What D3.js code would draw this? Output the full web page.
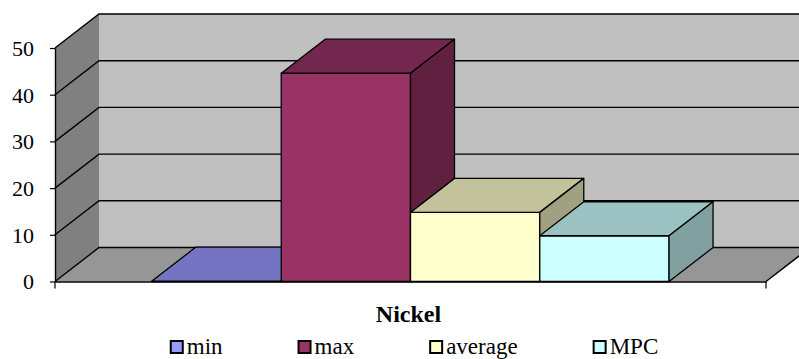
<!DOCTYPE html>
<html>
<head>
<meta charset="utf-8">
<script src="https://cdn.jsdelivr.net/npm/d3@7"></script>
</head>
<body style="margin:0;padding:0;background:#fff">
<svg id="chart" width="799" height="359" style="display:block"></svg>
<script>
// Chart data
const categories = ["Nickel"];
const seriesNames = ["min", "max", "average", "MPC"];
const seriesValues = [0.1, 44.6, 14.8, 9.8];
const seriesColors = ["#9999FF", "#993366", "#FFFFCC", "#CCFFFF"];
const yTicks = [0, 10, 20, 30, 40, 50];

const FONT = '"Liberation Serif", Tinos, "Times New Roman", serif';
const plot = { left: 55, right: 766, top: 48, bottom: 281.5 };
const depth = { dx: 44, dy: -34 };   // offset of the back plane

const svg = d3.select("#chart");

const y = d3.scaleLinear().domain([0, 50]).range([plot.bottom, plot.top]);
const x0 = d3.scaleBand().domain(categories).range([plot.left, plot.right]);
const x1 = d3.scaleBand().domain(seriesNames)
  .range([0, x0.bandwidth()]).paddingInner(0).paddingOuter(0.75);

const shade = (c, k) => { const r = d3.rgb(c); return d3.rgb(r.r * k, r.g * k, r.b * k).formatHex(); };
const poly = pts => "M" + pts.map(p => p.join(",")).join("L") + "Z";
const back = ([px, py]) => [px + depth.dx, py + depth.dy];

// --- walls and floor ---
const yMax = y.domain()[1];
const fl = [[plot.left, y(0)], [plot.right, y(0)], back([plot.right, y(0)]), back([plot.left, y(0)])];
const sideWall = [[plot.left, y(0)], [plot.left, y(yMax)], back([plot.left, y(yMax)]), back([plot.left, y(0)])];
const backWall = [back([plot.left, y(0)]), back([plot.left, y(yMax)]), back([plot.right, y(yMax)]), back([plot.right, y(0)])];

svg.append("path").attr("d", poly(backWall)).attr("fill", "#C0C0C0");
svg.append("path").attr("d", poly(sideWall)).attr("fill", "#808080");
svg.append("path").attr("d", poly(fl)).attr("fill", "#969696");

// gridlines across side wall and back wall
const grid = svg.append("g").attr("stroke", "#000").attr("stroke-width", 1.4).attr("fill", "none");
yTicks.forEach(v => {
  const f = [plot.left, y(v)], b = back(f), br = back([plot.right, y(v)]);
  grid.append("path").attr("d", `M${f}L${b}L${br}`);
});
// floor right edge
grid.append("path").attr("d", `M${[plot.right, y(0)]}L${back([plot.right, y(0)])}`);

// --- bars ---
const bars = svg.append("g").attr("stroke", "#000").attr("stroke-width", 1.3).attr("stroke-linejoin", "round");
seriesNames.forEach((name, i) => {
  const xl = x0(categories[0]) + x1(name);
  const xr = xl + x1.bandwidth();
  const yt = y(seriesValues[i]), yb = y(0);
  const c = seriesColors[i];
  const g = bars.append("g");
  g.append("path").attr("d", poly([[xl, yb], [xl, yt], [xr, yt], [xr, yb]])).attr("fill", c);
  g.append("path").attr("d", poly([[xl, yt], back([xl, yt]), back([xr, yt]), [xr, yt]])).attr("fill", shade(c, 0.76));
  g.append("path").attr("d", poly([[xr, yb], [xr, yt], back([xr, yt]), back([xr, yb])])).attr("fill", shade(c, 0.63));
});

// --- value axis ---
const yAxis = svg.append("g")
  .attr("transform", `translate(${plot.left},0)`)
  .call(d3.axisLeft(y).tickValues(yTicks).tickSize(5).tickSizeOuter(0).tickPadding(16).tickFormat(d3.format("d")));
yAxis.select(".domain").attr("stroke", "#000").attr("stroke-width", 1.4);
yAxis.selectAll(".tick line").attr("stroke", "#000").attr("stroke-width", 1.2);
yAxis.selectAll(".tick text")
  .style("font-family", FONT).style("font-size", "22px").attr("dy", "0.34em");

// --- category axis ---
const xAxis = svg.append("g")
  .attr("transform", `translate(0,${plot.bottom})`)
  .call(d3.axisBottom(x0).tickSize(0).tickSizeOuter(0));
xAxis.select(".domain").attr("stroke", "#000").attr("stroke-width", 1.4);
xAxis.selectAll(".tick text")
  .style("font-family", FONT).style("font-size", "24px").style("font-weight", "bold")
  .attr("y", 40).attr("dy", 0).attr("dx", -2);
// category boundary ticks
[x0.range()[0], x0.range()[1]].forEach(px => {
  xAxis.append("line").attr("x1", px).attr("x2", px).attr("y1", 0).attr("y2", 7)
    .attr("stroke", "#000").attr("stroke-width", 1.2);
});

// --- legend ---
const legend = svg.append("g").attr("transform", "translate(0,339)");
const items = legend.selectAll("g").data(seriesNames).join("g");
items.append("rect").attr("width", 12).attr("height", 12).attr("x", 1).attr("y", 2)
  .attr("fill", (d, i) => seriesColors[i]).attr("stroke", "#000").attr("stroke-width", 2);
items.append("text").attr("x", 17).attr("y", 15)
  .style("font-family", FONT).style("font-size", "23px").attr("fill", "#000").text(d => d);
let cx = 0;
const offsets = [];
items.each(function () {
  offsets.push(cx);
  cx += 17 + this.querySelector("text").getComputedTextLength() + 75;
});
const total = cx - 75;
const startX = 414 - total / 2;
items.attr("transform", (d, i) => `translate(${startX + offsets[i]},0)`);
</script>
</body>
</html>
